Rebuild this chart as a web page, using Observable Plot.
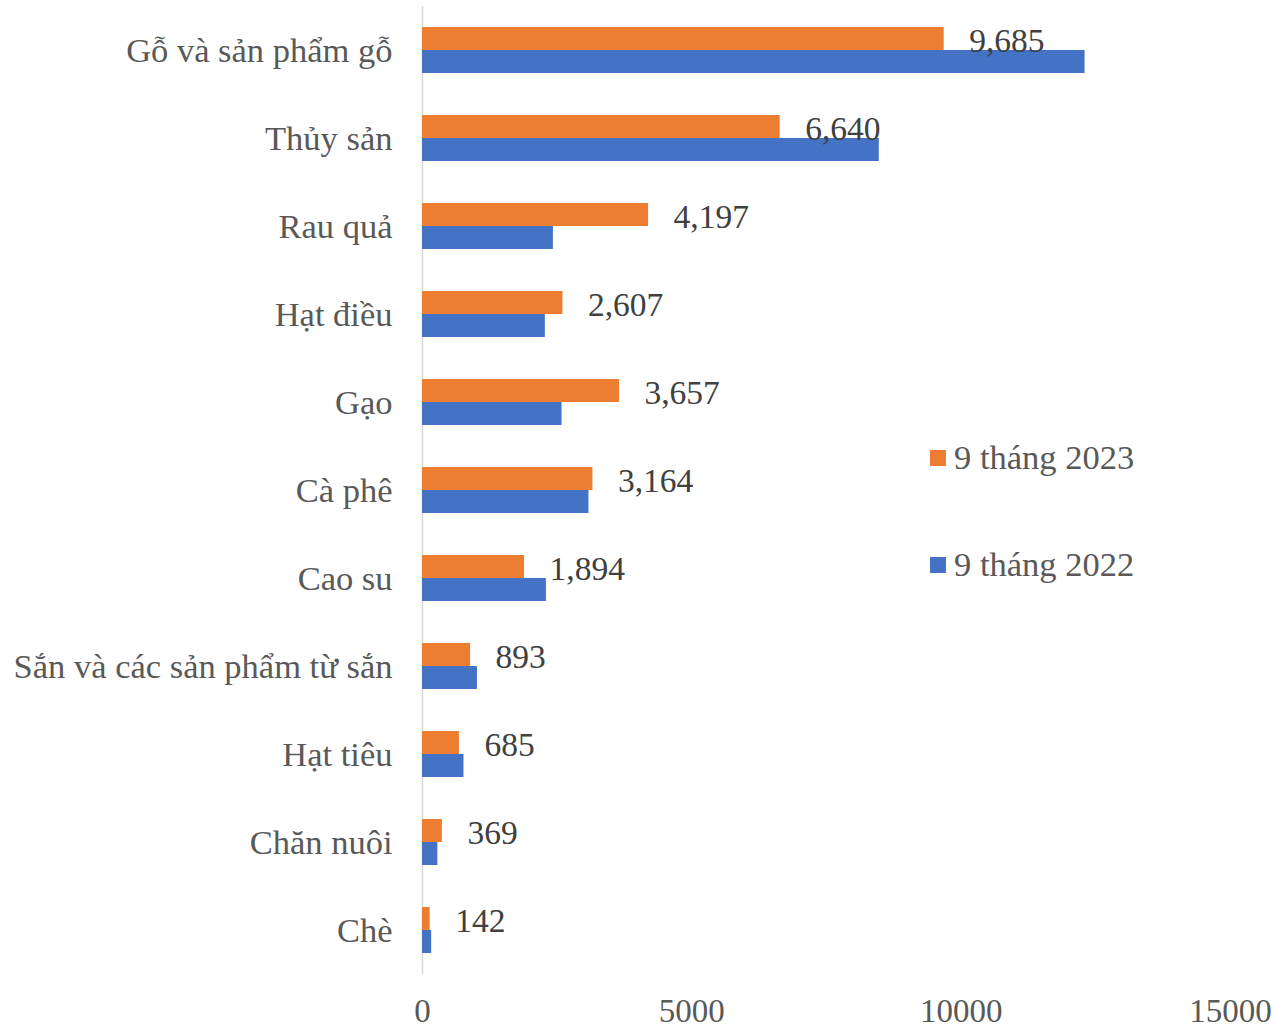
<!DOCTYPE html>
<html>
<head>
<meta charset="utf-8">
<script src="https://cdn.jsdelivr.net/npm/d3@7"></script>
<script src="https://cdn.jsdelivr.net/npm/@observablehq/plot@0.6"></script>
<style>
  html, body { margin: 0; padding: 0; background: #fff; }
  #wrap { position: relative; width: 1276px; height: 1031px; }
  #legend { position: absolute; left: 930px; top: 0; font-family: "Liberation Serif", "Times New Roman", serif; font-size: 34.5px; color: #595959; }
  .item { position: absolute; left: 0; white-space: nowrap; display: flex; align-items: center; }
  .sw { width: 16px; height: 16px; margin-right: 8px; display: inline-block; }
</style>
</head>
<body>
<div id="wrap">
  <div id="chart"></div>
  <div id="legend"></div>
</div>
<script>
const categories = ["Gỗ và sản phẩm gỗ", "Thủy sản", "Rau quả", "Hạt điều", "Gạo", "Cà phê", "Cao su", "Sắn và các sản phẩm từ sắn", "Hạt tiêu", "Chăn nuôi", "Chè"];
const seriesNames = ["9 tháng 2023", "9 tháng 2022"];
const values2023 = [9685, 6640, 4197, 2607, 3657, 3164, 1894, 893, 685, 369, 142];
const values2022 = [12300, 8480, 2430, 2280, 2590, 3090, 2300, 1020, 770, 285, 170];
const xTicks = [0, 5000, 10000, 15000];
const colors = ["#ED7D31", "#4472C4"];

const data = [];
categories.forEach((c, i) => {
  data.push({category: c, series: seriesNames[0], value: values2023[i]});
  data.push({category: c, series: seriesNames[1], value: values2022[i]});
});

const font = "'Liberation Serif', 'Times New Roman', serif";

const chart = Plot.plot({
  width: 1276,
  height: 1031,
  marginLeft: 422,
  marginRight: 46,
  marginTop: 6,
  marginBottom: 57,
  style: {fontFamily: font, fontSize: "33px", background: "#fff"},
  x: {domain: [0, 15000], axis: null},
  y: {domain: seriesNames, paddingInner: 0, paddingOuter: 0.913, axis: null},
  fy: {domain: categories, padding: 0, axis: null},
  color: {domain: seriesNames, range: colors},
  marks: [
    Plot.ruleX([0], {stroke: "#d9d9d9", strokeWidth: 1.5}),
    Plot.barX(data, {x: "value", y: "series", fy: "category", fill: "series"}),
    Plot.text(data.filter(d => d.series === seriesNames[0]), {
      x: "value", y: "series", fy: "category",
      text: d => d3.format(",")(d.value),
      textAnchor: "start", dx: 25, dy: 2, fill: "#404040", fontSize: 33.5
    }),
    Plot.axisFy({anchor: "left", tickSize: 0, tickPadding: 30, label: null, fill: "#595959", fontSize: 34.5}),
    Plot.axisX({ticks: xTicks, tickSize: 0, tickPadding: 24, tickFormat: d3.format("d"), label: null, fill: "#595959", fontSize: 33})
  ]
});
document.getElementById("chart").appendChild(chart);

const legend = document.getElementById("legend");
const legendTops = [438, 545];
seriesNames.forEach((s, i) => {
  const item = document.createElement("div");
  item.className = "item";
  item.style.top = legendTops[i] + "px";
  const sw = document.createElement("span");
  sw.className = "sw";
  sw.style.background = colors[i];
  item.appendChild(sw);
  const t = document.createElement("span");
  t.textContent = s;
  item.appendChild(t);
  legend.appendChild(item);
});
</script>
</body>
</html>
